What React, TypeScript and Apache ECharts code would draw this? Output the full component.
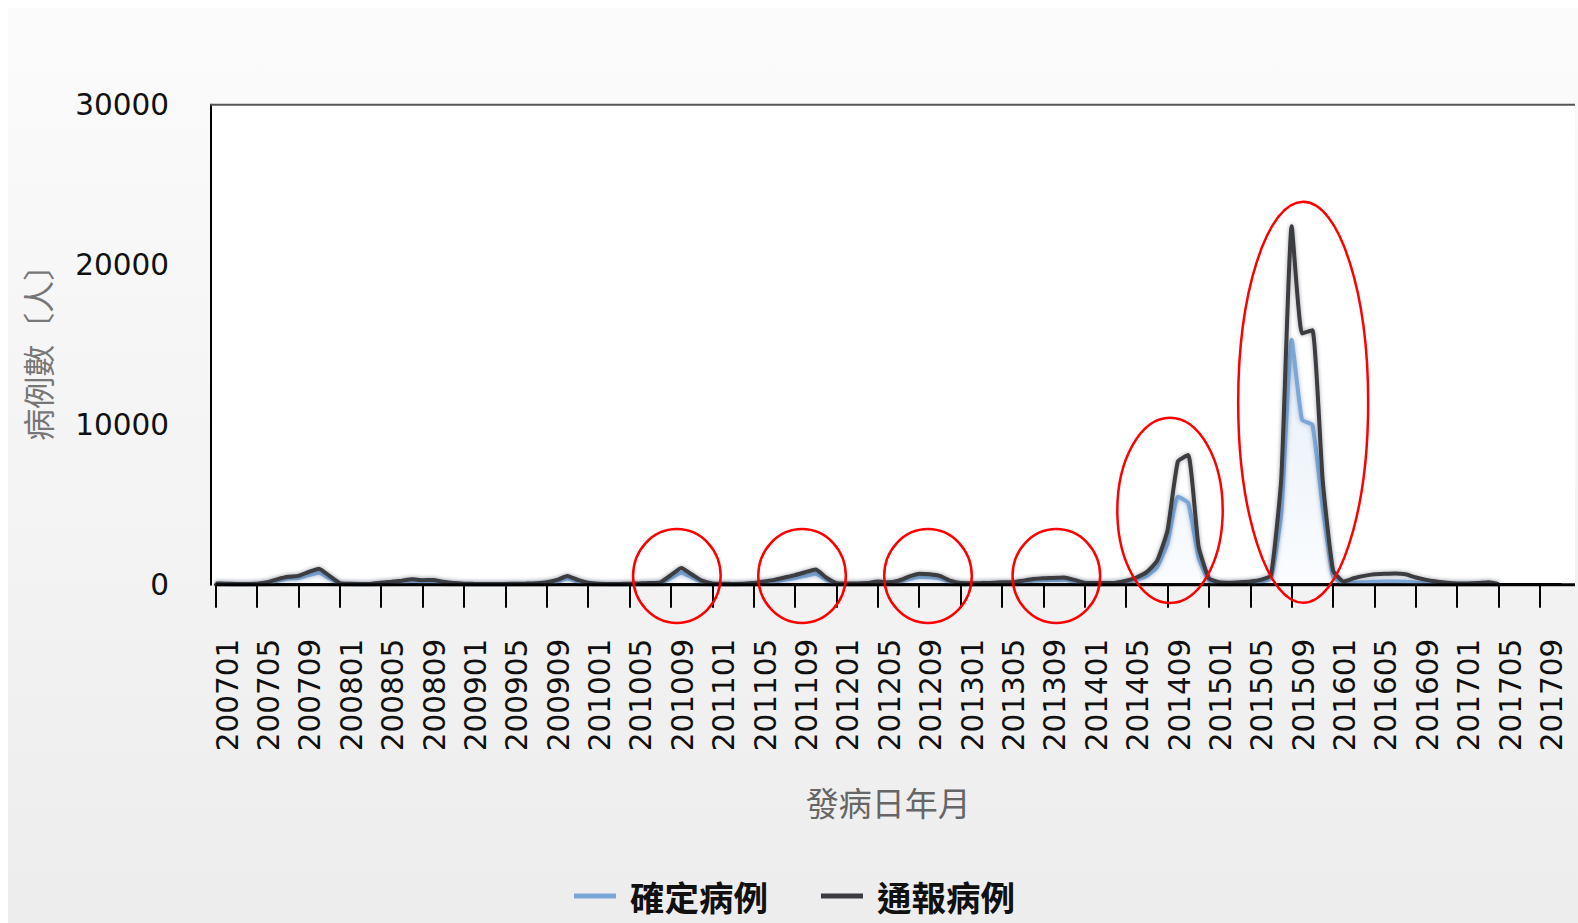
import React, { useEffect, useRef } from "react";
import * as echarts from "echarts";

const months = [
  "200701","200702","200703","200704","200705","200706","200707","200708","200709","200710","200711","200712",
  "200801","200802","200803","200804","200805","200806","200807","200808","200809","200810","200811","200812",
  "200901","200902","200903","200904","200905","200906","200907","200908","200909","200910","200911","200912",
  "201001","201002","201003","201004","201005","201006","201007","201008","201009","201010","201011","201012",
  "201101","201102","201103","201104","201105","201106","201107","201108","201109","201110","201111","201112",
  "201201","201202","201203","201204","201205","201206","201207","201208","201209","201210","201211","201212",
  "201301","201302","201303","201304","201305","201306","201307","201308","201309","201310","201311","201312",
  "201401","201402","201403","201404","201405","201406","201407","201408","201409","201410","201411","201412",
  "201501","201502","201503","201504","201505","201506","201507","201508","201509","201510","201511","201512",
  "201601","201602","201603","201604","201605","201606","201607","201608","201609","201610","201611","201612",
  "201701","201702","201703","201704","201705","201706","201707","201708","201709","201710","201711",
];

// 確定病例 (confirmed cases)
const confirmed: (number | null)[] = [
  50, 40, 30, 30, 40, 100, 250, 380, 420, 600, 750, 400,
  60, 40, 30, 30, 70, 110, 160, 230, 190, 200, 110, 60,
  40, 30, 25, 25, 30, 40, 50, 60, 100, 200, 380, 200,
  80, 40, 30, 30, 40, 50, 60, 100, 420, 750, 470, 170,
  50, 40, 30, 40, 60, 130, 200, 300, 420, 560, 680, 310,
  60, 50, 50, 60, 130, 100, 170, 350, 480, 460, 390, 170,
  60, 50, 60, 80, 100, 100, 170, 240, 280, 290, 310, 200,
  80, 60, 60, 80, 160, 300, 550, 1100, 2600, 5500, 5100, 1700,
  250, 100, 80, 100, 130, 200, 400, 4500, 15300, 10300, 10000, 4800,
  500, 100, 120, 150, 180, 200, 200, 180, 130, 90, 60, 40,
  40, 40, 50, 60, 10, null, null, null, null, null, null,
];

// 通報病例 (notified cases)
const notified: (number | null)[] = [
  80, 60, 50, 50, 60, 150, 350, 500, 550, 800, 1000, 550,
  100, 60, 50, 50, 120, 180, 250, 340, 280, 300, 180, 100,
  60, 50, 40, 40, 50, 60, 70, 90, 150, 300, 550, 300,
  120, 60, 50, 50, 60, 80, 100, 150, 600, 1050, 650, 250,
  80, 60, 50, 60, 100, 200, 300, 450, 600, 780, 950, 450,
  100, 80, 80, 100, 200, 150, 250, 500, 680, 650, 550, 250,
  100, 90, 100, 120, 150, 150, 250, 350, 400, 420, 450, 300,
  120, 100, 100, 120, 250, 450, 800, 1500, 3400, 7700, 8100, 2400,
  400, 150, 120, 150, 200, 300, 600, 6700, 22400, 15700, 15900, 6500,
  900, 200, 400, 550, 650, 680, 700, 650, 450, 300, 200, 120,
  80, 80, 100, 150, 30, null, null, null, null, null, null,
];

const seriesNames = ["確定病例", "通報病例"];
const yTicks = [0, 10000, 20000, 30000];

// red ellipse annotations: [category, value at centre, rx, ry, dx]
const annotations: [string, number, number, number, number][] = [
  ["201009", 544, 43.8, 46.9, 6],
  ["201109", 544, 43.8, 46.9, 7],
  ["201209", 544, 43.8, 46.9, 8.8],
  ["201309", 544, 43.8, 46.9, 13],
  ["201409", 4650, 52.7, 92.6, 2.5],
  ["201509", 11400, 65, 200.5, 11.5],
];

export default function App() {
  const ref = useRef<HTMLDivElement>(null);
  useEffect(() => {
    if (!ref.current) return;
    const chart = echarts.init(ref.current, undefined, { renderer: "svg" });
    const latin = "DejaVu Sans";
    const cjk = "Noto Sans CJK TC";
    chart.setOption({
      animation: false,
      backgroundColor: "transparent",
      grid: [
        { left: 207.6, right: 17.3, top: 96.7, bottom: 338.3, outerBoundsMode: "none", containLabel: false },
        { left: 219.6, right: 5.3, top: 96.7, bottom: 338.3, outerBoundsMode: "none", containLabel: false },
      ],
      legend: {
        left: 561,
        top: 865,
        itemWidth: 42,
        itemHeight: 5,
        itemGap: 53,
        icon: "rect",
        data: seriesNames,
        textStyle: { fontSize: 34.5, lineHeight: 36, fontWeight: "bold", color: "#111", fontFamily: cjk, padding: [0, 0, 0, 9] },
      },
      xAxis: [
        {
          type: "category",
          gridIndex: 0,
          data: months,
          boundaryGap: false,
          axisLine: { lineStyle: { color: "#000", width: 3 } },
          axisTick: { show: true, interval: 3, length: 23, lineStyle: { color: "#000", width: 2 } },
          axisLabel: { show: false },
          name: "發病日年月",
          nameLocation: "middle",
          nameGap: 201,
          nameTextStyle: { fontSize: 33, color: "#666", fontFamily: cjk },
        },
        {
          type: "category",
          gridIndex: 1,
          data: months,
          boundaryGap: false,
          axisLine: { show: false },
          axisTick: { show: false },
          axisLabel: { interval: 3, rotate: 90, margin: 54, fontSize: 29.5, color: "#111", fontFamily: latin },
        },
      ],
      yAxis: [
        {
          type: "value",
          gridIndex: 0,
          min: yTicks[0],
          max: yTicks[yTicks.length - 1],
          interval: yTicks[1] - yTicks[0],
          offset: 5.3,
          axisLine: { show: true, lineStyle: { color: "#000", width: 2 } },
          axisTick: { show: false },
          splitLine: { show: false },
          axisLabel: { margin: 41.3, fontSize: 29.5, color: "#111", fontFamily: latin, formatter: (v: number) => String(v) },
          name: "病例數〔人〕",
          nameLocation: "middle",
          nameGap: 157,
          nameRotate: 90,
          nameTextStyle: { fontSize: 32, color: "#777", fontFamily: cjk },
        },
        {
          type: "value",
          gridIndex: 1,
          min: 0,
          max: 1,
          show: false,
        },
      ],
      series: [
        {
          name: seriesNames[0],
          type: "line",
          data: confirmed,
          symbol: "none",
          smooth: 0.15,
          z: 2,
          itemStyle: { color: "#7ba7d7" },
          lineStyle: { color: "#7ba7d7", width: 4, shadowColor: "rgba(60,100,160,0.45)", shadowBlur: 4 },
          areaStyle: {
            color: new echarts.graphic.LinearGradient(0, 0, 0, 1, [
              { offset: 0, color: "rgba(150,185,225,0.35)" },
              { offset: 1, color: "rgba(225,236,248,0.25)" },
            ]),
          },
        },
        {
          name: seriesNames[1],
          type: "line",
          data: notified,
          symbol: "none",
          smooth: 0.15,
          z: 3,
          itemStyle: { color: "#3a3c41" },
          lineStyle: { color: "#3a3c41", width: 4, shadowColor: "rgba(0,0,0,0.35)", shadowBlur: 4 },
        },
      ],
    });

    const ellipses = annotations.map(([c, v, rx, ry, dx], k) => {
      const p = chart.convertToPixel({ xAxisIndex: 0, yAxisIndex: 0 }, [c, v]) as number[];
      return {
        id: "ell" + k,
        type: "ellipse",
        z: 100,
        shape: { cx: p[0] + dx, cy: p[1], rx, ry },
        style: { fill: "transparent", stroke: "#ff0000", lineWidth: 2.5 },
      };
    });
    const zero = chart.convertToPixel({ xAxisIndex: 0, yAxisIndex: 0 }, [0, 0]) as number[];
    const top = chart.convertToPixel({ xAxisIndex: 0, yAxisIndex: 0 }, [0, yTicks[yTicks.length - 1]]) as number[];
    const frameLeft = 202.3;
    const frameRight = 1567;
    chart.setOption({
      graphic: [
        {
          id: "bgWhite",
          type: "rect",
          z: -10,
          shape: { x: frameLeft, y: top[1], width: frameRight - frameLeft, height: zero[1] - top[1] },
          style: { fill: "#ffffff" },
        },
        { id: "topLine", type: "line", z: 5, shape: { x1: frameLeft, y1: top[1], x2: frameRight, y2: top[1] }, style: { stroke: "#555", lineWidth: 2 } },
        { id: "baseExt", type: "line", z: 5, shape: { x1: zero[0], y1: zero[1], x2: frameRight, y2: zero[1] }, style: { stroke: "#000", lineWidth: 3 } },
        ...ellipses,
      ],
    });
    return () => chart.dispose();
  }, []);
  return (
    <div
      style={{
        position: "fixed",
        left: 8,
        top: 8,
        width: 1570,
        height: 915,
        background: "linear-gradient(#fbfbfb, #ededed)",
      }}
    >
      <div ref={ref} style={{ width: 1570, height: 915 }} />
    </div>
  );
}
